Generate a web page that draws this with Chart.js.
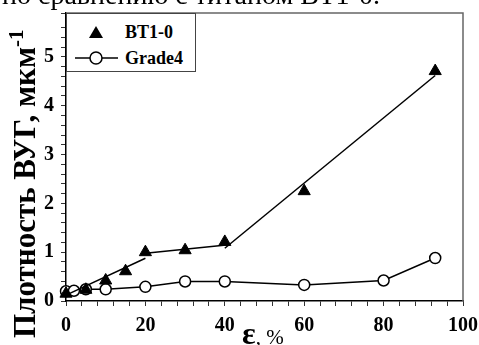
<!DOCTYPE html>
<html>
<head>
<meta charset="utf-8">
<script src="https://cdn.jsdelivr.net/npm/chart.js@4/dist/chart.umd.min.js"></script>
<style>
  html, body { margin:0; padding:0; background:#fff; }
  #wrap { position:relative; width:479px; height:345px; overflow:hidden; background:#fff; }
  #c { position:absolute; left:0; top:0; }
  .serif { font-family:'Liberation Serif','Times New Roman',serif; color:#000; }
  #toptext { position:absolute; left:2px; top:-19px; font-size:28px; line-height:28px; white-space:nowrap; }
  #ytitle { position:absolute; left:0; top:0; font-size:31px; line-height:31px; font-weight:bold; white-space:nowrap;
            transform-origin:0 0; transform:translate(9px,338px) rotate(-90deg); }
  #ytitle sup { font-size:21px; vertical-align:0; position:relative; top:-12px; }
  #xtitle { position:absolute; left:242px; top:317px; font-size:32px; line-height:32px; white-space:nowrap; }
  #xtitle .eps { font-weight:bold; }
  #xtitle .pct { font-size:21px; }
  #legend { position:absolute; left:66px; top:13px; width:128px; height:57px; border:1px solid #444; background:#fff; }
  .lrow { position:absolute; left:0; height:20px; width:128px; }
  .lrow svg { position:absolute; left:6px; top:0; }
  .lrow span { position:absolute; left:58px; top:0; font-size:18px; line-height:20px; font-weight:bold; }
</style>
</head>
<body>
<div id="wrap">
  <canvas id="c" width="479" height="345"></canvas>
  <div id="toptext" class="serif">по сравнению с титаном ВТ1-0.</div>
  <div id="ytitle" class="serif">Плотность ВУГ, мкм<sup>-1</sup></div>
  <div id="xtitle" class="serif"><span class="eps">ε</span><span class="pct">, %</span></div>
  <div id="legend" class="serif">
    <div class="lrow" style="top:8px">
      <svg width="50" height="20"><polygon points="23,4 30,16 16,16" fill="#000"/></svg>
      <span>BT1-0</span>
    </div>
    <div class="lrow" style="top:34px">
      <svg width="50" height="20"><line x1="2" y1="10" x2="45" y2="10" stroke="#000" stroke-width="1.5"/><circle cx="23" cy="10" r="6" fill="#fff" stroke="#000" stroke-width="1.5"/></svg>
      <span>Grade4</span>
    </div>
  </div>
</div>
<script>
// ---- data ----
const strainBT = [0, 5, 10, 15, 20, 30, 40, 60, 93];
const densityBT = [0.15, 0.23, 0.42, 0.61, 1.0, 1.04, 1.21, 2.25, 4.71];

const strainGrade4 = [0, 2, 5, 10, 20, 30, 40, 60, 80, 93];
const densityGrade4 = [0.20, 0.21, 0.24, 0.24, 0.29, 0.40, 0.40, 0.33, 0.42, 0.88];

// linear fit segments for BT1-0
const fit1Strain = [0, 20];
const fit1Density = [0.12, 0.875];
const fit2Strain = [20, 41];
const fit2Density = [0.98, 1.15];
const fit3Strain = [40, 93];
const fit3Density = [1.08, 4.62];

const xTickLabels = [0, 20, 40, 60, 80, 100];
const yTickLabels = [0, 1, 2, 3, 4, 5];

const pts = (xs, ys) => xs.map((x, i) => ({ x: x, y: ys[i] }));

const framePlugin = {
  id: 'frame',
  afterDatasetsDraw(chart) {
    const a = chart.chartArea, ctx = chart.ctx;
    ctx.save();
    ctx.strokeStyle = '#666';
    ctx.lineWidth = 1.5;
    ctx.beginPath();
    ctx.moveTo(a.left, a.top); ctx.lineTo(a.right, a.top); ctx.lineTo(a.right, a.bottom);
    ctx.stroke();
    ctx.restore();
  }
};

const tickFont = { family: "'Liberation Serif', serif", size: 20, weight: 'bold' };

new Chart(document.getElementById('c'), {
  type: 'line',
  data: {
    datasets: [
      { label: 'BT1-0', data: pts(strainBT, densityBT), showLine: false,
        pointStyle: 'triangle', pointRadius: 7, backgroundColor: '#000', borderColor: '#000', borderWidth: 1, clip: false },
      { label: 'fit1', data: pts(fit1Strain, fit1Density), borderColor: '#000', borderWidth: 1.5, pointRadius: 0, clip: false },
      { label: 'fit2', data: pts(fit2Strain, fit2Density), borderColor: '#000', borderWidth: 1.5, pointRadius: 0, clip: false },
      { label: 'fit3', data: pts(fit3Strain, fit3Density), borderColor: '#000', borderWidth: 1.5, pointRadius: 0, clip: false },
      { label: 'Grade4', data: pts(strainGrade4, densityGrade4), borderColor: '#000', borderWidth: 1.5,
        pointStyle: 'circle', pointRadius: 5.5, pointBackgroundColor: '#fff', pointBorderColor: '#000', pointBorderWidth: 1.5, clip: false }
    ]
  },
  options: {
    responsive: false,
    animation: false,
    layout: { padding: { top: 13, right: 16, left: 0, bottom: 0 } },
    plugins: { legend: { display: false }, tooltip: { enabled: false } },
    scales: {
      x: {
        type: 'linear', min: 0, max: 100,
        afterFit(s) { s.height = 44; s.paddingLeft = 0; s.paddingRight = 0; s.paddingTop = 0; s.paddingBottom = 0; },
        ticks: { stepSize: 4, autoSkip: false, maxRotation: 0, color: '#000', font: tickFont, padding: 8,
          callback: v => xTickLabels.includes(Math.round(v)) && Math.abs(v - Math.round(v)) < 1e-6 ? String(Math.round(v)) : '' },
        grid: { drawOnChartArea: false, drawTicks: true, tickLength: 5, tickColor: '#333', tickWidth: 1 },
        border: { display: true, color: '#000', width: 1.5 }
      },
      y: {
        type: 'linear', min: 0, max: 5.9,
        afterFit(s) { s.width = 66; s.paddingLeft = 0; s.paddingRight = 0; s.paddingTop = 0; s.paddingBottom = 0; },
        ticks: { stepSize: 0.2, autoSkip: false, color: '#000', font: tickFont, padding: 7,
          callback: v => (Math.abs(v - Math.round(v)) < 1e-6 && yTickLabels.includes(Math.round(v))) ? String(Math.round(v)) : '' },
        grid: { drawOnChartArea: false, drawTicks: true, tickLength: 5, tickColor: '#333', tickWidth: 1 },
        border: { display: true, color: '#000', width: 1.5 }
      }
    }
  },
  plugins: [framePlugin]
});
</script>
</body>
</html>
